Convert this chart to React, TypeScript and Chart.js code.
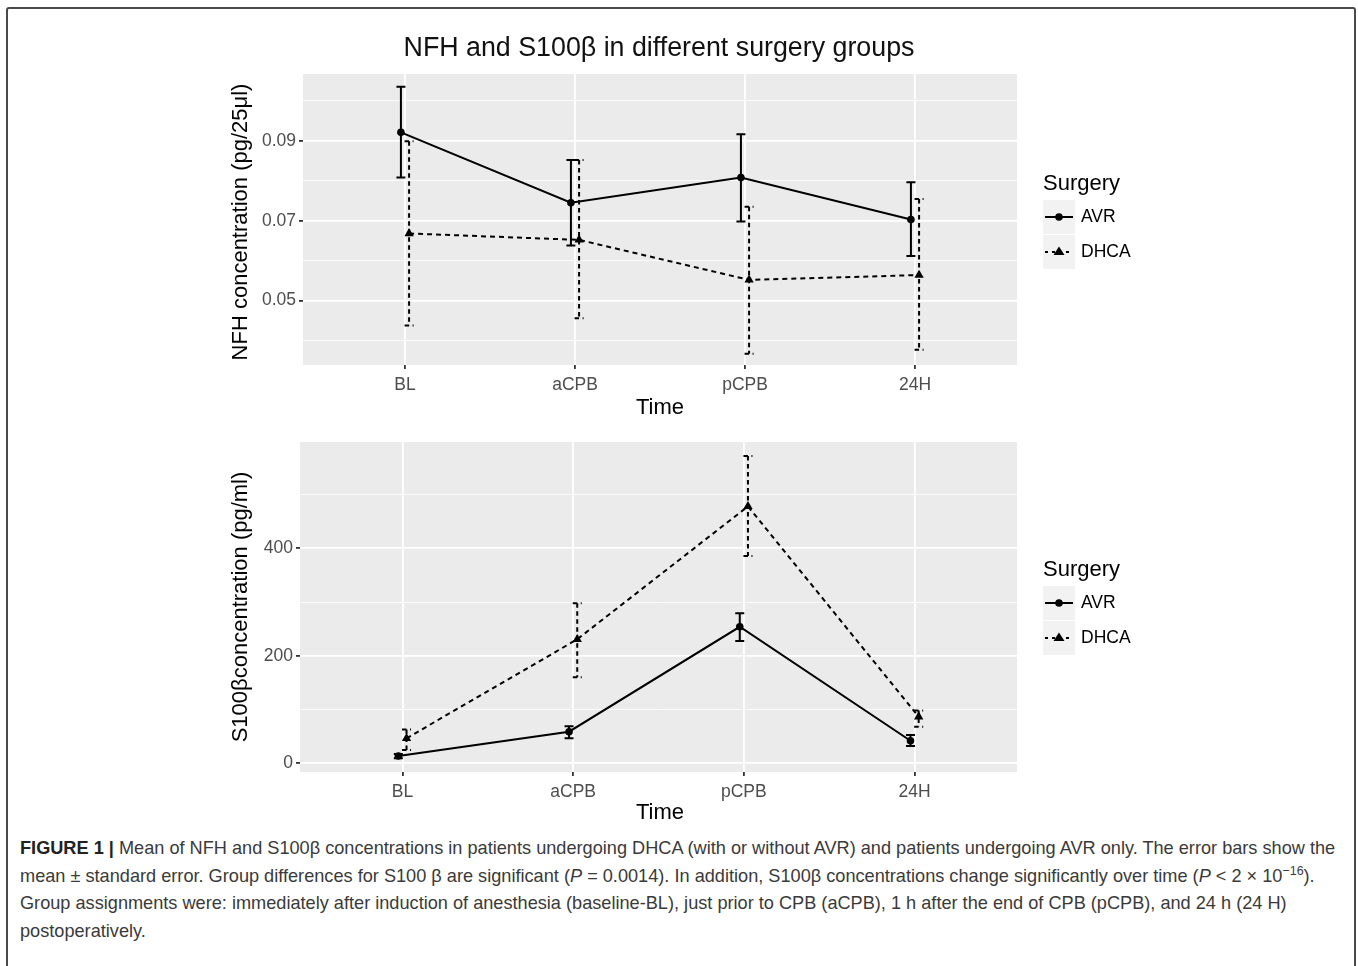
import React, { useEffect, useLayoutEffect, useRef, useState } from "react";
import { Chart, registerables } from "chart.js";

Chart.register(...registerables);

// ---------------- DATA ----------------
const CATEGORIES = ["BL", "aCPB", "pCPB", "24H"];
const CATEGORY_POS = [1, 2, 3, 4];
const SERIES_NAMES = ["AVR", "DHCA"];

// NFH concentration (pg/25µl)
const NFH_AVR_MEAN = [0.0921, 0.0745, 0.0808, 0.0703];
const NFH_AVR_LOW = [0.0808, 0.0638, 0.0698, 0.0612];
const NFH_AVR_HIGH = [0.1035, 0.0852, 0.0916, 0.0796];
const NFH_DHCA_MEAN = [0.0668, 0.0652, 0.0552, 0.0564];
const NFH_DHCA_LOW = [0.0438, 0.0456, 0.0367, 0.0377];
const NFH_DHCA_HIGH = [0.0899, 0.0852, 0.0735, 0.0754];
const NFH_TICKS = [0.04, 0.05, 0.06, 0.07, 0.08, 0.09, 0.1];
const NFH_LABELS = ["0.05", "0.07", "0.09"];

// S100β concentration (pg/ml)
const S100_AVR_MEAN = [13.6, 58.8, 254, 42];
const S100_AVR_LOW = [9.5, 46.5, 227.5, 32];
const S100_AVR_HIGH = [17.5, 69, 279, 52.6];
const S100_DHCA_MEAN = [46.5, 230.7, 478, 86.7];
const S100_DHCA_LOW = [24.7, 160, 385.7, 68];
const S100_DHCA_HIGH = [63, 297.7, 571.7, 98];
const S100_TICKS = [0, 100, 200, 300, 400, 500];
const S100_LABELS = ["0", "200", "400"];

const DODGE = 0.024;

// ---------------- PLUGINS ----------------
const panelBackground = {
  id: "panelBackground",
  beforeDraw(chart: any) {
    const { ctx, chartArea: a } = chart;
    ctx.save();
    ctx.fillStyle = "#EBEBEB";
    ctx.fillRect(a.left, a.top, a.right - a.left, a.bottom - a.top);
    ctx.restore();
  },
};

const errorBars = {
  id: "errorBars",
  beforeDatasetsDraw(chart: any) {
    const { ctx } = chart;
    const xs = chart.scales.x;
    const ys = chart.scales.y;
    chart.data.datasets.forEach((ds: any) => {
      ctx.save();
      ctx.strokeStyle = "#000000";
      ctx.lineWidth = 2;
      ctx.setLineDash(ds.errDash || []);
      const cap = 4.5;
      ds.data.forEach((pt: any, j: number) => {
        const x = xs.getPixelForValue(pt.x);
        const yl = ys.getPixelForValue(ds.errLow[j]);
        const yh = ys.getPixelForValue(ds.errHigh[j]);
        ctx.beginPath();
        ctx.moveTo(x - cap, yh);
        ctx.lineTo(x + cap, yh);
        ctx.moveTo(x, yh);
        ctx.lineTo(x, yl);
        ctx.moveTo(x - cap, yl);
        ctx.lineTo(x + cap, yl);
        ctx.stroke();
      });
      ctx.restore();
    });
  },
};

// ---------------- CHART CONFIG ----------------
type PanelSpec = {
  width: number;
  height: number;
  area: { left: number; top: number; right: number; bottom: number };
  yMin: number;
  yMax: number;
  yTicks: number[];
  yLabels: string[];
  fmt: (v: number) => string;
  avr: { mean: number[]; low: number[]; high: number[] };
  dhca: { mean: number[]; low: number[]; high: number[] };
};

function makeConfig(p: PanelSpec): any {
  const isMajor = (v: number) => p.yLabels.includes(p.fmt(v));
  const tickFont = { family: "'Liberation Sans', Arial, sans-serif", size: 17.5 };
  return {
    type: "line",
    data: {
      datasets: [
        {
          label: SERIES_NAMES[0],
          data: CATEGORY_POS.map((x, i) => ({ x: x - DODGE, y: p.avr.mean[i] })),
          errLow: p.avr.low,
          errHigh: p.avr.high,
          errDash: [],
          borderColor: "#000000",
          backgroundColor: "#000000",
          borderWidth: 2,
          pointStyle: "circle",
          pointRadius: 3.8,
          pointBorderWidth: 0,
          pointBackgroundColor: "#000000",
          tension: 0,
          fill: false,
        },
        {
          label: SERIES_NAMES[1],
          data: CATEGORY_POS.map((x, i) => ({ x: x + DODGE, y: p.dhca.mean[i] })),
          errLow: p.dhca.low,
          errHigh: p.dhca.high,
          errDash: [4.5, 3.5],
          borderColor: "#000000",
          backgroundColor: "#000000",
          borderWidth: 2,
          borderDash: [5, 4],
          pointStyle: "triangle",
          pointRadius: 5.4,
          pointBorderWidth: 0,
          pointBackgroundColor: "#000000",
          tension: 0,
          fill: false,
        },
      ],
    },
    options: {
      responsive: false,
      animation: false,
      devicePixelRatio: 1,
      events: [],
      layout: {
        padding: { left: 0, top: p.area.top, right: p.width - p.area.right, bottom: 0 },
      },
      plugins: {
        legend: { display: false },
        title: { display: false },
        tooltip: { enabled: false },
      },
      scales: {
        x: {
          type: "linear",
          min: 0.4,
          max: 4.6,
          afterBuildTicks: (s: any) => {
            s.ticks = CATEGORY_POS.map((v) => ({ value: v }));
          },
          afterFit: (s: any) => {
            s.height = p.height - p.area.bottom;
          },
          ticks: {
            autoSkip: false,
            maxRotation: 0,
            color: "#4D4D4D",
            font: tickFont,
            padding: 6,
            callback: (v: number) => {
              const i = CATEGORY_POS.indexOf(v);
              return i >= 0 ? CATEGORIES[i] : "";
            },
          },
          grid: {
            color: "#FFFFFF",
            lineWidth: 1.8,
            tickColor: "#333333",
            tickLength: 4,
            tickWidth: 1.8,
          },
          border: { display: false },
        },
        y: {
          type: "linear",
          min: p.yMin,
          max: p.yMax,
          afterBuildTicks: (s: any) => {
            s.ticks = p.yTicks.map((v) => ({ value: v }));
          },
          afterFit: (s: any) => {
            s.width = p.area.left;
          },
          ticks: {
            autoSkip: false,
            color: "#4D4D4D",
            font: tickFont,
            padding: 3,
            callback: (v: number) => (isMajor(v) ? p.fmt(v) : ""),
          },
          grid: {
            color: "#FFFFFF",
            lineWidth: (c: any) => (c.tick && isMajor(c.tick.value) ? 1.8 : 0.8),
            tickColor: (c: any) =>
              c.tick && isMajor(c.tick.value) ? "#333333" : "rgba(0,0,0,0)",
            tickLength: 4,
            tickWidth: 1.8,
          },
          border: { display: false },
        },
      },
    },
    plugins: [panelBackground, errorBars],
  };
}

function ChartPanel({ spec, top }: { spec: PanelSpec; top: number }) {
  const ref = useRef<HTMLCanvasElement | null>(null);
  useEffect(() => {
    if (!ref.current) return;
    const chart = new Chart(ref.current, makeConfig(spec));
    return () => chart.destroy();
  }, []);
  return (
    <canvas
      ref={ref}
      width={spec.width}
      height={spec.height}
      style={{ position: "absolute", left: 0, top, width: spec.width, height: spec.height, display: "block" }}
    />
  );
}

// ---------------- LEGEND ----------------
const FONT = "'Liberation Sans', Arial, Helvetica, sans-serif";

function LegendKey({ dashed }: { dashed: boolean }) {
  return (
    <svg width={32} height={34} style={{ display: "block" }}>
      <rect x={0} y={0} width={32} height={34} fill="#F2F2F2" />
      <line
        x1={2}
        y1={17}
        x2={30}
        y2={17}
        stroke="#000"
        strokeWidth={2}
        strokeDasharray={dashed ? "3 4" : undefined}
      />
      {dashed ? (
        <polygon points="16,11.5 21.5,20 10.5,20" fill="#000" />
      ) : (
        <circle cx={16} cy={17} r={3.8} fill="#000" />
      )}
    </svg>
  );
}

function Legend({ top }: { top: number }) {
  return (
    <div style={{ position: "absolute", left: 1043, top, fontFamily: FONT }}>
      <div style={{ fontSize: 22, lineHeight: "24px", color: "#000", marginBottom: 4 }}>Surgery</div>
      {SERIES_NAMES.map((name, i) => (
        <div key={name} style={{ display: "flex", alignItems: "center", height: 35 }}>
          <LegendKey dashed={i === 1} />
          <span style={{ fontSize: 17.5, marginLeft: 6, color: "#000" }}>{name}</span>
        </div>
      ))}
    </div>
  );
}

// ---------------- CAPTION ----------------
function Caption() {
  const line1 = useRef<HTMLDivElement | null>(null);
  const [scale, setScale] = useState(1);
  useLayoutEffect(() => {
    if (line1.current) {
      const w = line1.current.scrollWidth;
      if (w > 0) setScale(1315 / w);
    }
  }, []);
  const lineStyle: React.CSSProperties = {
    whiteSpace: "nowrap",
    height: 27.5,
    lineHeight: "27.5px",
    width: "max-content",
  };
  return (
    <div
      style={{
        position: "absolute",
        left: 20,
        top: 834,
        fontFamily: FONT,
        fontSize: 19,
        color: "#3A3A3A",
        transformOrigin: "0 0",
        transform: `scaleX(${scale})`,
      }}
    >
      <div ref={line1} style={lineStyle}>
        <b style={{ color: "#222" }}>FIGURE 1 |</b> Mean of NFH and S100β concentrations in patients undergoing DHCA (with or
        without AVR) and patients undergoing AVR only. The error bars show the
      </div>
      <div style={lineStyle}>
        mean ± standard error. Group differences for S100 β are significant (<i>P</i> = 0.0014). In addition, S100β
        concentrations change significantly over time (<i>P</i> &lt; 2 × 10<sup style={{ fontSize: 13, lineHeight: 0 }}>−16</sup>).
      </div>
      <div style={lineStyle}>
        Group assignments were: immediately after induction of anesthesia (baseline-BL), just prior to CPB (aCPB), 1 h after
        the end of CPB (pCPB), and 24 h (24 H)
      </div>
      <div style={lineStyle}>postoperatively.</div>
    </div>
  );
}

// ---------------- APP ----------------
const TOP_SPEC: PanelSpec = {
  width: 1358,
  height: 420,
  area: { left: 303, top: 74, right: 1017, bottom: 365 },
  yMin: 0.0339,
  yMax: 0.1067,
  yTicks: NFH_TICKS,
  yLabels: NFH_LABELS,
  fmt: (v) => v.toFixed(2),
  avr: { mean: NFH_AVR_MEAN, low: NFH_AVR_LOW, high: NFH_AVR_HIGH },
  dhca: { mean: NFH_DHCA_MEAN, low: NFH_DHCA_LOW, high: NFH_DHCA_HIGH },
};

const BOTTOM_TOP = 420;
const BOTTOM_SPEC: PanelSpec = {
  width: 1358,
  height: 410,
  area: { left: 300, top: 442 - BOTTOM_TOP, right: 1017, bottom: 772 - BOTTOM_TOP },
  yMin: -16.2,
  yMax: 597.8,
  yTicks: S100_TICKS,
  yLabels: S100_LABELS,
  fmt: (v) => String(Math.round(v)),
  avr: { mean: S100_AVR_MEAN, low: S100_AVR_LOW, high: S100_AVR_HIGH },
  dhca: { mean: S100_DHCA_MEAN, low: S100_DHCA_LOW, high: S100_DHCA_HIGH },
};

const centered = (x: number, y: number, extra: React.CSSProperties = {}): React.CSSProperties => ({
  position: "absolute",
  left: x,
  top: y,
  transform: "translate(-50%, -50%)",
  whiteSpace: "nowrap",
  fontFamily: FONT,
  lineHeight: 1,
  color: "#000",
  ...extra,
});

export default function App() {
  return (
    <div
      style={{
        position: "absolute",
        left: 0,
        top: 0,
        width: 1358,
        height: 966,
        overflow: "hidden",
        background: "#FFFFFF",
      }}
    >
      <div
        style={{
          position: "absolute",
          left: 6,
          top: 7,
          width: 1350,
          height: 1000,
          border: "2px solid #4A4A4A",
          borderRadius: 3,
          boxSizing: "border-box",
        }}
      />
      <ChartPanel spec={TOP_SPEC} top={0} />
      <ChartPanel spec={BOTTOM_SPEC} top={BOTTOM_TOP} />

      <div style={centered(659, 47, { fontSize: 26.8, color: "#111" })}>NFH and S100β in different surgery groups</div>

      <div style={centered(240, 222, { fontSize: 22, transform: "translate(-50%, -50%) rotate(-90deg)" })}>
        NFH concentration (pg/25μl)
      </div>
      <div style={centered(660, 407, { fontSize: 22 })}>Time</div>

      <div style={centered(240, 607, { fontSize: 22, transform: "translate(-50%, -50%) rotate(-90deg)" })}>
        S100βconcentration (pg/ml)
      </div>
      <div style={centered(660, 812, { fontSize: 22 })}>Time</div>

      <Legend top={171} />
      <Legend top={557} />

      <Caption />
    </div>
  );
}
